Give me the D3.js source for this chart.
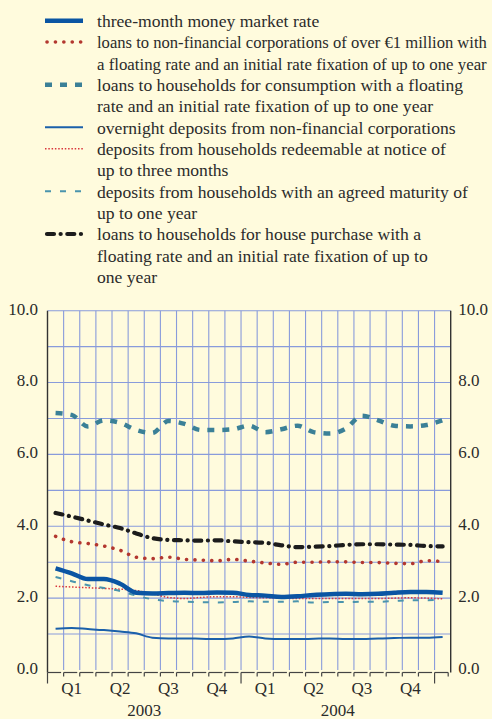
<!DOCTYPE html>
<html lang="en">
<head>
  <meta charset="UTF-8">
  <script src="https://d3js.org/d3.v7.min.js"></script>
  <title>MFI interest rates</title>
  <style>
  body { margin: 0; background: #fffbdd; }
  svg { display: block; }
  text { font-family: "Liberation Serif", "Times New Roman", serif; fill: #2b2b2b; }
  .axis text { font-size: 17px; }
  </style>
</head>
<body>
<svg id="chart" width="492" height="719"></svg>

<script>
  // months Jan 2003 .. Jan 2005
  const months = ["2003-01","2003-02","2003-03","2003-04","2003-05","2003-06","2003-07","2003-08","2003-09","2003-10","2003-11","2003-12",
                  "2004-01","2004-02","2004-03","2004-04","2004-05","2004-06","2004-07","2004-08","2004-09","2004-10","2004-11","2004-12",
                  "2005-01"];
  const quarters = ["Q1","Q2","Q3","Q4"];
  const years = ["2003","2004"];
  const yTicks = [0, 2, 4, 6, 8, 10];

  const moneyMarket3m  = [2.83,2.69,2.53,2.53,2.40,2.15,2.13,2.14,2.15,2.14,2.16,2.15,2.09,2.07,2.03,2.05,2.09,2.11,2.12,2.11,2.12,2.15,2.17,2.17,2.15];
  const loansNfcOver1m = [3.72,3.57,3.52,3.45,3.33,3.14,3.10,3.14,3.08,3.06,3.04,3.08,3.03,2.98,2.94,3.00,3.00,3.01,3.01,2.99,2.99,2.97,2.96,3.04,3.02];
  const loansConsumption = [7.15,7.10,6.78,6.95,6.88,6.68,6.60,6.93,6.85,6.68,6.68,6.70,6.80,6.62,6.70,6.80,6.62,6.58,6.72,7.08,6.95,6.80,6.78,6.82,6.95];
  const overnightNfc   = [1.15,1.17,1.14,1.11,1.07,1.02,0.90,0.88,0.88,0.87,0.86,0.88,0.93,0.88,0.86,0.86,0.87,0.88,0.86,0.86,0.88,0.89,0.90,0.90,0.92];
  const depNotice3m    = [2.33,2.31,2.29,2.27,2.25,2.21,2.12,2.02,1.99,2.02,2.04,2.04,2.02,2.01,2.00,1.99,1.99,1.99,1.99,1.99,1.99,2.00,2.01,2.00,1.98];
  const depMaturity1y  = [2.59,2.47,2.36,2.28,2.20,2.07,1.97,1.92,1.90,1.89,1.88,1.89,1.91,1.90,1.90,1.91,1.88,1.89,1.89,1.90,1.90,1.92,1.94,1.94,1.96];
  const loansHouse     = [4.37,4.27,4.16,4.05,3.95,3.80,3.67,3.62,3.61,3.60,3.61,3.58,3.56,3.54,3.47,3.42,3.43,3.45,3.48,3.50,3.50,3.49,3.48,3.45,3.44];

  const series = [
    {values: moneyMarket3m, color: "#0a55a3", width: 4.5, dash: null, cap: "butt", row: 0,
     label: ["three-month money market rate"]},
    {values: loansNfcOver1m, color: "#b3372f", width: 3.6, dash: "0.1 8.3", cap: "round", row: 1,
     label: ["loans to non-financial corporations of over €1 million with", "a floating rate and an initial rate fixation of up to one year"]},
    {values: loansConsumption, color: "#3b8097", width: 4.5, dash: "7 8", cap: "butt", row: 3,
     label: ["loans to households for consumption with a floating", "rate and an initial rate fixation of up to one year"]},
    {values: overnightNfc, color: "#1b60aa", width: 2, dash: null, cap: "butt", row: 5,
     label: ["overnight deposits from non-financial corporations"]},
    {values: depNotice3m, color: "#d9363c", width: 1.5, dash: "1.5 1.8", cap: "butt", row: 6,
     label: ["deposits from households redeemable at notice of", "up to three months"]},
    {values: depMaturity1y, color: "#4a94ad", width: 2, dash: "6 9", cap: "butt", row: 8,
     label: ["deposits from households with an agreed maturity of", "up to one year"]},
    {values: loansHouse, color: "#1c1c1c", width: 4.2, dash: "7 6.6 0.1 6.6", cap: "round", row: 10,
     label: ["loans to households for house purchase with a", "floating rate and an initial rate fixation of up to", "one year"]}
  ];

  const svg = d3.select("svg#chart");
  svg.append("rect").attr("width", 492).attr("height", 719).attr("fill", "#fffbdd");

  const plot = {left: 47.5, right: 450.7, top: 310.7, bottom: 670};

  const x = d3.scaleBand().domain(months).range([plot.left, plot.right]).padding(0);
  const y = d3.scaleLinear().domain([0, 10]).range([plot.bottom, plot.top]);
  const xc = m => x(m) + x.bandwidth() / 2;

  // grid
  const grid = svg.append("g").attr("class", "grid");
  grid.selectAll("line.h")
    .data(d3.range(1, 11))
    .join("line")
    .attr("x1", plot.left).attr("x2", plot.right)
    .attr("y1", d => y(d)).attr("y2", d => y(d))
    .attr("stroke", "#899bdb").attr("stroke-width", 1.1);
  grid.selectAll("line.v")
    .data(months.slice(1))
    .join("line")
    .attr("x1", d => x(d)).attr("x2", d => x(d))
    .attr("y1", plot.top).attr("y2", plot.bottom)
    .attr("stroke", "#899bdb").attr("stroke-width", 1.1);

  // y axes both sides
  const yAxisL = d3.axisLeft(y).tickValues(yTicks).tickFormat(d3.format(".1f")).tickSize(0).tickPadding(9.5);
  const yAxisR = d3.axisRight(y).tickValues(yTicks).tickFormat(d3.format(".1f")).tickSize(0).tickPadding(7.5);
  const gl = svg.append("g").attr("class", "axis").attr("transform", `translate(${plot.left},0)`).call(yAxisL);
  const gr = svg.append("g").attr("class", "axis").attr("transform", `translate(${plot.right},0)`).call(yAxisR);
  [gl, gr].forEach(g => {
    g.select(".domain").remove();
    g.selectAll("text").attr("dy", "0.2em").attr("font-size", null).attr("font-family", null).attr("fill", "#2b2b2b");
  });
  [plot.left, plot.right].forEach(px => {
    svg.append("line")
      .attr("x1", px).attr("x2", px)
      .attr("y1", plot.top).attr("y2", plot.bottom + 2.5)
      .attr("stroke", "#333").attr("stroke-width", 1.4);
  });

  // bottom bracket ticks
  const base = plot.bottom + 2.5;
  const ticks = svg.append("g").attr("class", "xticks").attr("stroke", "#444").attr("stroke-width", 1.2);
  ticks.selectAll("line.seg")
    .data(months)
    .join("line")
    .attr("x1", d => x(d)).attr("x2", d => x(d) + x.bandwidth() - 2.5)
    .attr("y1", base).attr("y2", base);
  ticks.selectAll("line.tk")
    .data(months)
    .join("line")
    .attr("x1", d => x(d)).attr("x2", d => x(d))
    .attr("y1", base)
    .attr("y2", d => d.endsWith("-01") ? base + 11 : base + 4);
  ticks.append("line")
    .attr("x1", plot.right - 2.5).attr("x2", plot.right - 2.5)
    .attr("y1", base).attr("y2", base + 4);

  const xlab = svg.append("g").attr("class", "axis");
  years.forEach(yr => {
    quarters.forEach((q, i) => {
      const m0 = `${yr}-${String(i * 3 + 1).padStart(2, "0")}`;
      const m2 = `${yr}-${String(i * 3 + 3).padStart(2, "0")}`;
      xlab.append("text")
        .attr("x", (x(m0) + x(m2) + x.bandwidth()) / 2)
        .attr("y", 694)
        .attr("text-anchor", "middle")
        .text(q);
    });
    xlab.append("text")
      .attr("x", (x(`${yr}-01`) + x(`${yr}-12`) + x.bandwidth()) / 2)
      .attr("y", 716)
      .attr("text-anchor", "middle")
      .text(yr);
  });

  // lines
  const line = d3.line()
    .x((d, i) => xc(months[i]))
    .y(d => y(d))
    .curve(d3.curveMonotoneX);

  const drawOrder = [4, 5, 3, 2, 1, 6, 0];
  svg.append("g").attr("class", "lines")
    .selectAll("path")
    .data(drawOrder.map(i => series[i]))
    .join("path")
    .attr("d", d => line(d.values))
    .attr("fill", "none")
    .attr("stroke", d => d.color)
    .attr("stroke-width", d => d.width)
    .attr("stroke-dasharray", d => d.dash)
    .attr("stroke-linecap", d => d.cap)
    .attr("stroke-linejoin", "round");

  // legend
  const rowY = r => 20.7 + 21.33 * r;
  const textX = 97, maxW = 390, legendFont = 17.6;
  const legend = svg.append("g").attr("class", "legend");
  series.forEach(s => {
    legend.append("line")
      .attr("x1", s.cap === "round" ? 47 : 45).attr("x2", s.cap === "round" ? 82 : 83)
      .attr("y1", rowY(s.row)).attr("y2", rowY(s.row))
      .attr("stroke", s.color)
      .attr("stroke-width", s.width)
      .attr("stroke-dasharray", s.dash)
      .attr("stroke-linecap", s.cap);
    s.label.forEach((t, k) => {
      const txt = legend.append("text")
        .attr("x", textX)
        .attr("y", rowY(s.row + k) + 6.2)
        .attr("font-size", legendFont)
        .text(t);
      // shrink lines that would run past the right edge
      const w = txt.node().getComputedTextLength();
      if (w > maxW) txt.attr("font-size", legendFont * maxW / w);
    });
  });
</script>
</body>
</html>
